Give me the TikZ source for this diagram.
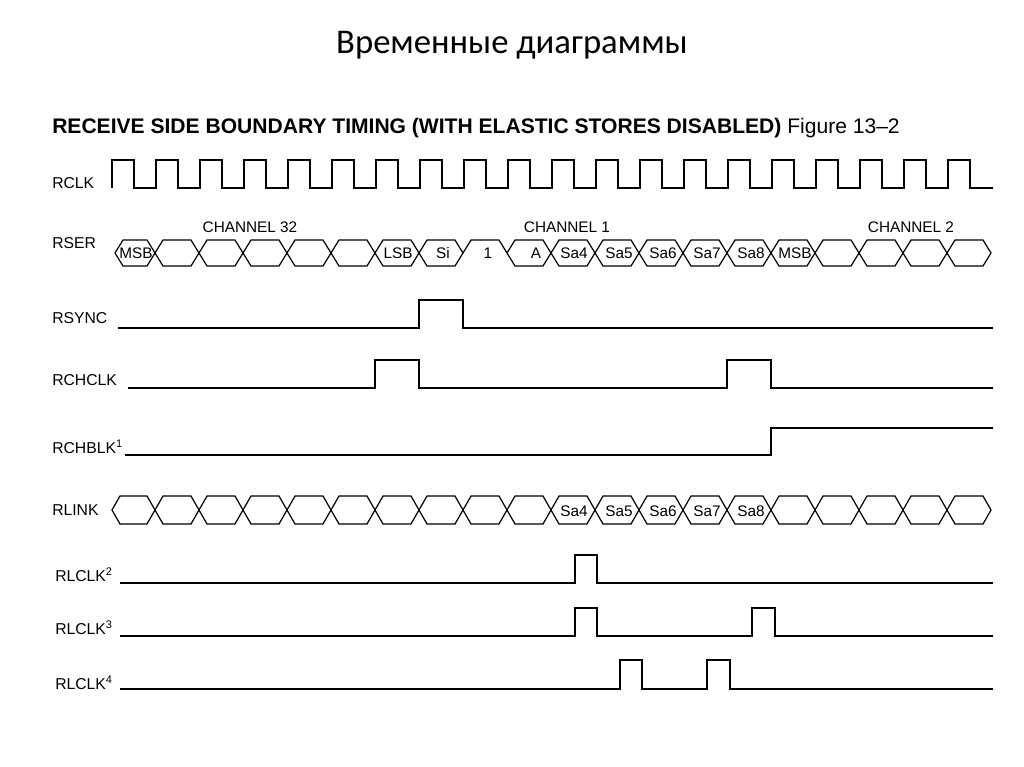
\documentclass[tikz,border=0pt]{standalone}
\usepackage{fontspec}
\setmainfont{Liberation Sans}
\newfontfamily\titlefont{Carlito}
\begin{document}
\begin{tikzpicture}[x=0.75pt,y=-0.75pt,
  sig/.style={line width=0.9pt,line join=miter},
  lbl/.style={anchor=west,inner sep=0,font=\fontsize{11.8}{13}\selectfont},
  cell/.style={inner sep=0,font=\fontsize{11.5}{13}\selectfont}]
\useasboundingbox (0,0) rectangle (1024,767);
\fill[white] (0,0) rectangle (1024,767);
\node[font=\titlefont\fontsize{26}{30}\selectfont] (title) at (512,45) {Временные диаграммы};
\node[anchor=west,inner sep=0,font=\fontsize{15.8}{18}\selectfont] (head) at (52,128) {\textbf{RECEIVE SIDE BOUNDARY TIMING (WITH ELASTIC STORES DISABLED)} Figure 13–2};
% labels
\node[lbl] (lrclk) at (52,183) {RCLK};
\node[lbl] (lrser) at (52,243) {RSER};
\node[lbl] (lrsync) at (52,318) {RSYNC};
\node[lbl] (lrchclk) at (52,380) {RCHCLK};
\node[lbl] (lrchblk) at (52,447) {RCHBLK$^{\mathrm{1}}$};
\node[lbl] (lrlink) at (52,510) {RLINK};
\node[lbl] (lrl2) at (55,575) {RLCLK$^{\mathrm{2}}$};
\node[lbl] (lrl3) at (55,628) {RLCLK$^{\mathrm{3}}$};
\node[lbl] (lrl4) at (55,683) {RLCLK$^{\mathrm{4}}$};
% RCLK
\draw[sig] (112,188) \foreach \i in {0,...,19}{ -- ({112+44*\i},160) -- ({134+44*\i},160) -- ({134+44*\i},188) -- ({156+44*\i},188)} -- (993,188);
% RSER
\foreach \a in {115,155,199,243,287,331,375,419,507,551,595,639,683,727,771,815,859,903,947}{
  \pgfmathsetmacro\b{\a==115 ? 155 : \a+44}
  \draw[sig] (\a,253) -- (\a+8,240) -- (\b-8,240) -- (\b,253) -- (\b-8,266) -- (\a+8,266) -- cycle;
}
\draw[sig] (463,253) -- (471,240) -- (499,240) -- (507,253);
\node[cell] (cmsb1) at (136,253) {MSB};
\node[cell] (clsb) at (398,253) {LSB};
\node[cell] (csi) at (443,253) {Si};
\node[cell] (cone) at (488,253) {1};
\node[cell] (ca) at (536,253) {A};
\node[cell] (csa4) at (574,253) {Sa4};
\node[cell] (csa5) at (619,253) {Sa5};
\node[cell] (csa6) at (663,253) {Sa6};
\node[cell] (csa7) at (707,253) {Sa7};
\node[cell] (csa8) at (751,253) {Sa8};
\node[cell] (cmsb2) at (795,253) {MSB};
\node[cell] (ch32) at (250,227) {CHANNEL 32};
\node[cell] (ch1) at (567,227) {CHANNEL 1};
\node[cell] (ch2) at (911,227) {CHANNEL 2};
% RSYNC
\draw[sig] (118,328) -- (419,328) -- (419,300) -- (463,300) -- (463,328) -- (993,328);
% RCHCLK
\draw[sig] (128,388) -- (375,388) -- (375,360) -- (419,360) -- (419,388) -- (727,388) -- (727,360) -- (771,360) -- (771,388) -- (993,388);
% RCHBLK
\draw[sig] (125,455) -- (771,455) -- (771,428) -- (993,428);
% RLINK
\foreach \a in {112,155,199,243,287,331,375,419,463,507,551,595,639,683,727,771,815,859,903,947}{
  \pgfmathsetmacro\b{\a==112 ? 155 : \a+44}
  \draw[sig] (\a,510) -- (\a+8,496) -- (\b-8,496) -- (\b,510) -- (\b-8,524) -- (\a+8,524) -- cycle;
}
\node[cell] (rsa4) at (574,511) {Sa4};
\node[cell] (rsa5) at (619,511) {Sa5};
\node[cell] (rsa6) at (663,511) {Sa6};
\node[cell] (rsa7) at (707,511) {Sa7};
\node[cell] (rsa8) at (751,511) {Sa8};
% RLCLK
\draw[sig] (120,583) -- (575,583) -- (575,555) -- (597,555) -- (597,583) -- (993,583);
\draw[sig] (120,636) -- (575,636) -- (575,608) -- (597,608) -- (597,636) -- (752,636) -- (752,608) -- (775,608) -- (775,636) -- (993,636);
\draw[sig] (120,689) -- (620,689) -- (620,660) -- (642,660) -- (642,689) -- (707,689) -- (707,660) -- (730,660) -- (730,689) -- (993,689);
\end{tikzpicture}
\end{document}
